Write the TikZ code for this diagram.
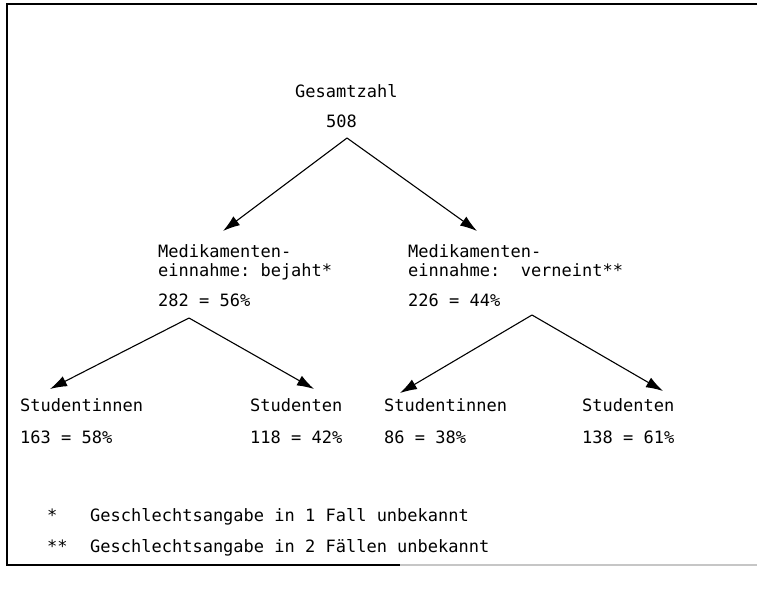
\documentclass[tikz,border=0pt]{standalone}
\usepackage{fontspec}
\setmonofont{DejaVu Sans Mono}
\usetikzlibrary{arrows.meta}
\begin{document}
\begin{tikzpicture}[x=1pt,y=-1pt,
  lbl/.style={anchor=base west,inner sep=0pt,font=\fontsize{17}{20}\selectfont\ttfamily},
  conn/.style={line width=1.1pt,-{Latex[length=17pt,width=11pt]}},
  frame/.style={line width=1.1pt}]
\useasboundingbox (0,0) rectangle (762,591);
% frame
\draw[frame] (757,4) -- (7,4) -- (7,565) -- (400,565);
\draw[frame,gray!45] (400,565) -- (757,565);
% top
\node[lbl] (ges) at (295,98) {Gesamtzahl};
\node[lbl] (tot) at (326,128) {508};
% second level left
\node[lbl] (ml1) at (158,257) {Medikamenten-};
\node[lbl] (ml2) at (158,276) {einnahme: bejaht*};
\node[lbl] (ml3) at (158,306) {282 = 56\%};
% second level right
\node[lbl] (mr1) at (408,257) {Medikamenten-};
\node[lbl] (mr2) at (408,276) {einnahme:\ \ verneint**};
\node[lbl] (mr3) at (408,306) {226 = 44\%};
% third level
\node[lbl] (s1) at (20,411) {Studentinnen};
\node[lbl] (s1n) at (20,443) {163 = 58\%};
\node[lbl] (s2) at (250,411) {Studenten};
\node[lbl] (s2n) at (250,443) {118 = 42\%};
\node[lbl] (s3) at (384,411) {Studentinnen};
\node[lbl] (s3n) at (384,443) {86 = 38\%};
\node[lbl] (s4) at (582,411) {Studenten};
\node[lbl] (s4n) at (582,443) {138 = 61\%};
% footnotes
\node[lbl] (f1s) at (47,521) {*};
\node[lbl] (f1) at (90,521) {Geschlechtsangabe in 1 Fall unbekannt};
\node[lbl] (f2s) at (47,552) {**};
\node[lbl] (f2) at (90,552) {Geschlechtsangabe in 2 Fällen unbekannt};
% connector points
\coordinate (a0) at (347,138);
\coordinate (t1) at (223,231);
\coordinate (t2) at (477,231);
\coordinate (a1) at (189,318);
\coordinate (t3) at (50,389);
\coordinate (t4) at (314,389);
\coordinate (a2) at (532,315);
\coordinate (t5) at (400,393);
\coordinate (t6) at (663,391);
\draw[conn] (a0) -- (t1);
\draw[conn] (a0) -- (t2);
\draw[conn] (a1) -- (t3);
\draw[conn] (a1) -- (t4);
\draw[conn] (a2) -- (t5);
\draw[conn] (a2) -- (t6);
\end{tikzpicture}
\end{document}
